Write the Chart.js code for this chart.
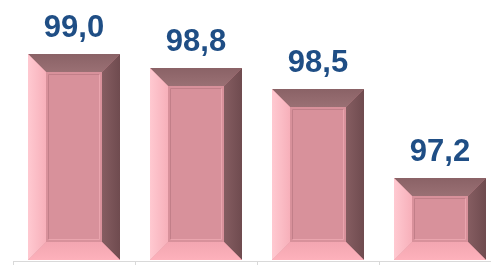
<!DOCTYPE html>
<html>
<head>
<meta charset="utf-8">
<script src="https://cdn.jsdelivr.net/npm/chart.js@4"></script>
<style>
  html, body { margin: 0; padding: 0; background: #fff; overflow: hidden; }
  #wrap { width: 502px; height: 265px; }
</style>
</head>
<body>
<div id="wrap"><canvas id="myChart" width="502" height="265"></canvas></div>
<script>
const categorias = ['A', 'B', 'C', 'D'];
const valores = [99.0, 98.8, 98.5, 97.2];
const etiquetas = valores.map(v => v.toFixed(1).replace('.', ','));

// dibuja cada barra con efecto de bisel, usando la posicion que calcula Chart.js
const bisel = {
  id: 'bisel',
  afterDatasetsDraw(chart) {
    const ctx = chart.ctx;
    const meta = chart.getDatasetMeta(0);
    meta.data.forEach((bar, i) => {
      const p = bar.getProps(['x', 'y', 'base', 'width'], true);
      const L = Math.round(p.x - p.width / 2), R = Math.round(p.x + p.width / 2);
      const T = Math.round(p.y), B = Math.round(Math.min(p.base, chart.chartArea.bottom)) - 1;
      const b = 18;
      const poly = (pts, fill) => {
        ctx.beginPath();
        ctx.moveTo(pts[0][0], pts[0][1]);
        for (let k = 1; k < pts.length; k++) ctx.lineTo(pts[k][0], pts[k][1]);
        ctx.closePath();
        ctx.fillStyle = fill;
        ctx.fill();
      };
      ctx.save();
      // centro
      ctx.fillStyle = '#d8919b';
      ctx.fillRect(L, T, R - L, B - T);
      // arriba
      let g = ctx.createLinearGradient(0, T, 0, T + b);
      g.addColorStop(0, '#8a6266'); g.addColorStop(1, '#9a7074');
      poly([[L, T], [R, T], [R - b, T + b], [L + b, T + b]], g);
      // derecha
      g = ctx.createLinearGradient(R, 0, R - b, 0);
      g.addColorStop(0, '#6f4b4f'); g.addColorStop(1, '#855d61');
      poly([[R, T], [R, B], [R - b, B - b], [R - b, T + b]], g);
      // abajo
      g = ctx.createLinearGradient(0, B, 0, B - b);
      g.addColorStop(0, '#fdb1bb'); g.addColorStop(1, '#f3a6b1');
      poly([[L, B], [R, B], [R - b, B - b], [L + b, B - b]], g);
      // izquierda
      g = ctx.createLinearGradient(L, 0, L + b, 0);
      g.addColorStop(0, '#ffc9d1'); g.addColorStop(1, '#f7b0ba');
      poly([[L, T], [L, B], [L + b, B - b], [L + b, T + b]], g);
      // borde interior
      ctx.lineWidth = 1;
      ctx.strokeStyle = '#c27f89';
      ctx.beginPath();
      ctx.moveTo(L + b + 2.5, B - b - 2.5); ctx.lineTo(L + b + 2.5, T + b + 2.5); ctx.lineTo(R - b - 2.5, T + b + 2.5);
      ctx.stroke();
      ctx.strokeStyle = '#eaa5ae';
      ctx.beginPath();
      ctx.moveTo(R - b - 2.5, T + b + 2.5); ctx.lineTo(R - b - 2.5, B - b - 2.5); ctx.lineTo(L + b + 2.5, B - b - 2.5);
      ctx.stroke();
      // etiqueta
      ctx.fillStyle = '#1f4e85';
      ctx.font = 'bold 31px "Liberation Sans", Arial, sans-serif';
      ctx.textAlign = 'center';
      ctx.textBaseline = 'alphabetic';
      ctx.fillText(etiquetas[i], p.x, T - 17);
      ctx.restore();
    });
  }
};

const ctx = document.getElementById('myChart').getContext('2d');
const myChart = new Chart(ctx, {
  type: 'bar',
  data: {
    labels: categorias,
    datasets: [{
      data: valores,
      base: 96,
      backgroundColor: 'rgba(0,0,0,0)',
      borderWidth: 0,
      barPercentage: 0.755,
      categoryPercentage: 1
    }]
  },
  options: {
    responsive: false,
    animation: false,
    layout: { padding: { left: 13, right: 1, top: 20, bottom: 0 } },
    plugins: { legend: { display: false }, tooltip: { enabled: false } },
    scales: {
      x: {
        ticks: { display: false },
        grid: { offset: true, drawOnChartArea: false, drawTicks: true, tickLength: 4, color: '#d9d9d9' },
        border: { display: true, color: '#d9d9d9', width: 1 }
      },
      y: {
        display: false,
        min: 96,
        max: 99.5
      }
    }
  },
  plugins: [bisel]
});
</script>
</body>
</html>
